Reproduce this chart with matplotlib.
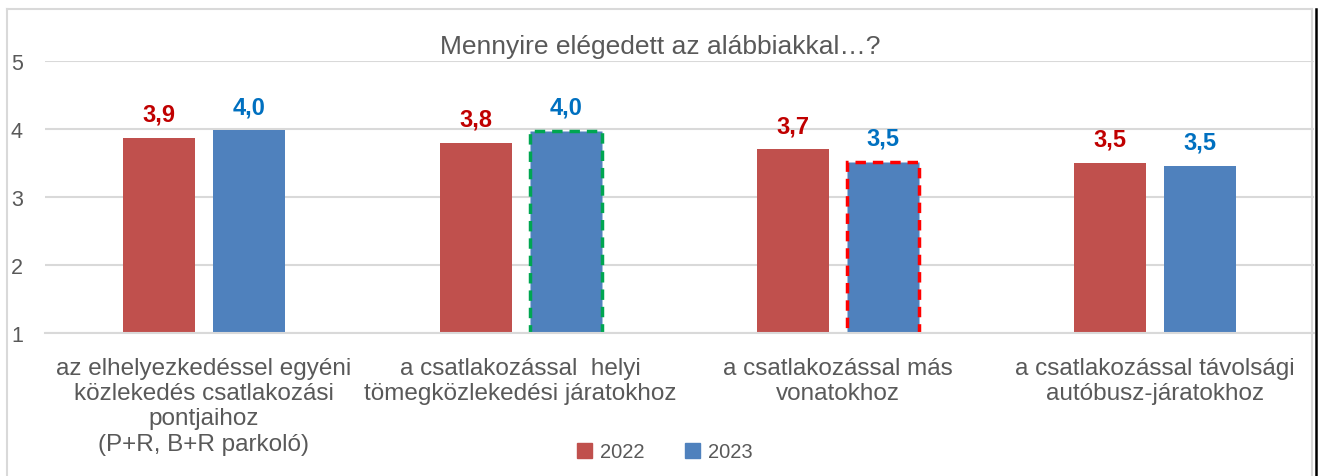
import numpy as np
import matplotlib
matplotlib.use('Agg')
import matplotlib.pyplot as plt
from matplotlib.lines import Line2D
from matplotlib.patches import Patch

plt.rcParams['font.family'] = ['Liberation Sans', 'DejaVu Sans']

# adatok
categories = ['az elhelyezkedéssel egyéni\nközlekedés csatlakozási\npontjaihoz\n(P+R, B+R parkoló)',
              'a csatlakozással  helyi\ntömegközlekedési járatokhoz',
              'a csatlakozással más\nvonatokhoz',
              'a csatlakozással távolsági\nautóbusz-járatokhoz']
years = ['2022', '2023']
values_2022 = [3.87, 3.80, 3.70, 3.50]
values_2023 = [3.98, 3.97, 3.52, 3.46]
labels_2022 = ['3,9', '3,8', '3,7', '3,5']
labels_2023 = ['4,0', '4,0', '3,5', '3,5']

fig = plt.figure(figsize=(13.22, 4.77), dpi=100)
ax = fig.add_axes([45 / 1322, 1 - 334 / 477, 1268.5 / 1322, 272 / 477])

x = np.arange(len(categories))
w = 0.227
off = 0.142
b1 = ax.bar(x - off, values_2022, w, color='#C0504D', bottom=0, zorder=2)
b2 = ax.bar(x + off, values_2023, w, color='#4F81BD', bottom=0, zorder=2)

# kiemelt oszlopok szaggatott kerettel
b2[1].set_edgecolor('#00A651')
b2[1].set_linestyle((0, (3, 2)))
b2[1].set_linewidth(2.5)
b2[2].set_edgecolor('#FF0000')
b2[2].set_linestyle((0, (3, 2)))
b2[2].set_linewidth(2.5)

for xi, v, t in zip(x, values_2022, labels_2022):
    ax.text(xi - off, v + 0.18, t, ha='center', va='bottom', fontsize=17,
            fontweight='bold', color='#C00000', clip_on=False)
for xi, v, t in zip(x, values_2023, labels_2023):
    ax.text(xi + off, v + 0.18, t, ha='center', va='bottom', fontsize=17,
            fontweight='bold', color='#0070C0', clip_on=False)

ax.set_ylim(1, 5)
ax.set_xlim(-0.5, 3.5)
ax.set_yticks([1, 2, 3, 4, 5])
ax.set_xticks(x)
ax.set_xticklabels(categories, fontsize=17.5, color='#595959', linespacing=1.2)
ax.tick_params(axis='both', length=0)
ax.tick_params(axis='x', pad=17)
ax.tick_params(axis='y', pad=16, labelsize=15.5, labelcolor='#595959')
ax.grid(axis='y', color='#D9D9D9', linewidth=1.5)
ax.set_axisbelow(True)
for s in ['top', 'right', 'left']:
    ax.spines[s].set_visible(False)
ax.spines['bottom'].set_color('#D9D9D9')
ax.spines['bottom'].set_linewidth(1.5)

fig.text(660 / 1322, 1 - 47 / 477, 'Mennyire elégedett az alábbiakkal…?',
         ha='center', va='center', fontsize=19, color='#595959')

# jelmagyarázat
handles = [Patch(color='#C0504D'), Patch(color='#4F81BD')]
fig.legend(handles, years, loc='center', bbox_to_anchor=(665 / 1322, 1 - 453 / 477),
           ncol=2, frameon=False, fontsize=14.5, labelcolor='#595959',
           handlelength=0.75, handleheight=0.75, handletextpad=0.4, columnspacing=2.0)

# keret
fig.add_artist(Line2D([7 / 1322, 1312 / 1322], [1 - 10 / 477, 1 - 10 / 477], color='#D9D9D9', lw=1.5))
fig.add_artist(Line2D([7 / 1322, 7 / 1322], [0, 1 - 10 / 477], color='#D9D9D9', lw=1.5))
fig.add_artist(Line2D([1312 / 1322, 1312 / 1322], [0, 1 - 10 / 477], color='#D9D9D9', lw=1.5))
fig.add_artist(Line2D([1315.5 / 1322, 1315.5 / 1322], [0, 1 - 10 / 477], color='black', lw=1.8))

plt.savefig('out.png', dpi=100)
